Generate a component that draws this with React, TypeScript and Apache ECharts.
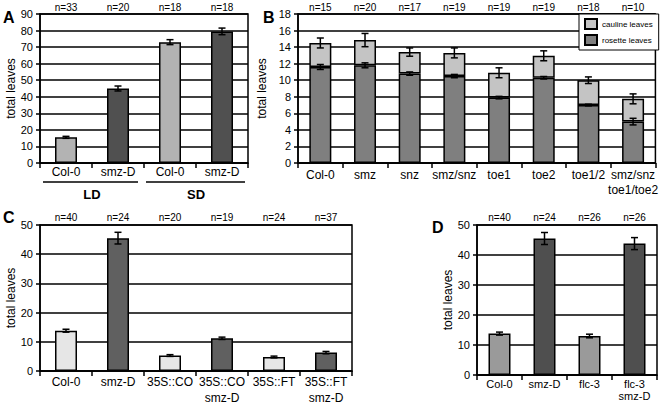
import React, { useEffect, useRef } from 'react';
import * as echarts from 'echarts';

// ---------- Panel A ----------
const aCategories = ['Col-0', 'smz-D', 'Col-0', 'smz-D'];
const aN = ['n=33', 'n=20', 'n=18', 'n=18'];
const aMeans = [15.5, 45, 73, 79.5];
const aErrors = [0.6, 1.5, 1.5, 2];
const aGroups = ['LD', 'SD'];

// ---------- Panel B ----------
const bCategories = ['Col-0', 'smz', 'snz', 'smz/snz', 'toe1', 'toe2', 'toe1/2', 'smz/snz\ntoe1/toe2'];
const bN = ['n=15', 'n=20', 'n=17', 'n=19', 'n=19', 'n=19', 'n=18', 'n=10'];
const bRosette = [11.6, 11.8, 10.8, 10.5, 7.9, 10.3, 7.0, 5.0];
const bRosetteErr = [0.3, 0.3, 0.2, 0.2, 0.15, 0.15, 0.1, 0.4];
const bTotal = [14.5, 14.85, 13.4, 13.3, 10.9, 12.95, 10.0, 7.75];
const bTotalErr = [0.6, 0.8, 0.5, 0.6, 0.6, 0.6, 0.4, 0.6];

// ---------- Panel C ----------
const cCategories = ['Col-0', 'smz-D', '35S::CO', '35S::CO\nsmz-D', '35S::FT', '35S::FT\nsmz-D'];
const cN = ['n=40', 'n=24', 'n=20', 'n=19', 'n=24', 'n=37'];
const cMeans = [13.8, 45.5, 5.3, 11.2, 4.8, 6.3];
const cErrors = [0.5, 2, 0.3, 0.4, 0.3, 0.4];

// ---------- Panel D ----------
const dCategories = ['Col-0', 'smz-D', 'flc-3', 'flc-3\nsmz-D'];
const dN = ['n=40', 'n=24', 'n=26', 'n=26'];
const dMeans = [13.8, 45.5, 13, 43.8];
const dErrors = [0.5, 2, 0.6, 2];

const FONT = '"Liberation Sans", Arial, Helvetica, sans-serif';

const aColors = ['#b3b3b3', '#505050', '#b3b3b3', '#505050'];
const cColors = ['#e6e6e6', '#606060', '#e6e6e6', '#606060', '#e6e6e6', '#606060'];
const dColors = ['#9a9a9a', '#4f4f4f', '#9a9a9a', '#4f4f4f'];

const grids = [
  { left: 40, top: 14, width: 208, height: 149 },
  { left: 298, top: 14, width: 359, height: 149 },
  { left: 40, top: 225, width: 312, height: 150 },
  { left: 477, top: 225, width: 180, height: 150 },
];

function xBottom(gridIndex: number, cats: string[], lineHeight: number, fontSize = 12, margin = 3) {
  return {
    type: 'category',
    gridIndex,
    position: 'bottom',
    data: cats,
    axisLine: { show: true, lineStyle: { color: '#000', width: 1.5 } },
    axisTick: { show: true, length: 5, alignWithLabel: false, interval: 0, lineStyle: { color: '#000', width: 1.5 } },
    axisLabel: { interval: 0, color: '#000', fontSize, fontFamily: FONT, margin, lineHeight },
    splitLine: { show: false },
  };
}

function xTop(gridIndex: number, ns: string[], margin: number) {
  return {
    type: 'category',
    gridIndex,
    position: 'top',
    data: ns,
    axisLine: { show: false },
    axisTick: { show: false },
    axisLabel: { interval: 0, color: '#000', fontSize: 10, fontFamily: FONT, margin },
    splitLine: { show: false },
  };
}

function yAxis(gridIndex: number, max: number, interval: number, nameGap: number) {
  return {
    type: 'value',
    gridIndex,
    min: 0,
    max,
    interval,
    name: 'total leaves',
    nameLocation: 'middle',
    nameGap,
    nameTextStyle: { color: '#000', fontSize: 12, fontFamily: FONT },
    axisLine: { show: true, lineStyle: { color: '#000', width: 1.5 } },
    axisTick: { show: true, length: 4, lineStyle: { color: '#000', width: 1.5 } },
    axisLabel: { color: '#000', fontSize: 11, fontFamily: FONT, margin: 7 },
    splitLine: { show: true, lineStyle: { color: '#000', width: 1.5 } },
  };
}

function barSeries(idx: number, means: number[], colors: string[]) {
  return {
    type: 'bar',
    xAxisIndex: idx,
    yAxisIndex: idx,
    barWidth: 22,
    data: means.map((v, i) => ({ value: v, itemStyle: { color: colors[i] } })),
    itemStyle: { borderColor: '#000', borderWidth: 1.5 },
    z: 3,
  };
}

function errSeries(idx: number, means: number[], errs: number[]) {
  return {
    type: 'custom',
    xAxisIndex: idx,
    yAxisIndex: idx,
    z: 5,
    encode: { x: 0, y: [1, 2] },
    data: means.map((m, i) => [i, m - errs[i], m + errs[i]]),
    renderItem: (params: any, api: any) => {
      const x = api.value(0);
      const top = api.coord([x, api.value(2)]);
      const bot = api.coord([x, api.value(1)]);
      const w = 3.5;
      const st = { stroke: '#000', lineWidth: 1.5 };
      return {
        type: 'group',
        children: [
          { type: 'line', shape: { x1: top[0], y1: top[1], x2: bot[0], y2: bot[1] }, style: st },
          { type: 'line', shape: { x1: top[0] - w, y1: top[1], x2: top[0] + w, y2: top[1] }, style: st },
          { type: 'line', shape: { x1: bot[0] - w, y1: bot[1], x2: bot[0] + w, y2: bot[1] }, style: st },
        ],
      };
    },
  };
}

function buildOption() {
  const ga = grids[0];
  const catW = ga.width / aCategories.length;
  const groupLineY = 182;
  const graphic: any[] = [
    { type: 'text', left: 3, top: 9, style: { text: 'A', font: `bold 16px ${FONT}`, fill: '#000' } },
    { type: 'text', left: 263, top: 9, style: { text: 'B', font: `bold 16px ${FONT}`, fill: '#000' } },
    { type: 'text', left: 3, top: 209, style: { text: 'C', font: `bold 16px ${FONT}`, fill: '#000' } },
    { type: 'text', left: 432, top: 219, style: { text: 'D', font: `bold 16px ${FONT}`, fill: '#000' } },
  ];
  aGroups.forEach((g, gi) => {
    const x0 = ga.left + gi * 2 * catW;
    graphic.push({
      type: 'line',
      shape: { x1: x0 + (gi === 0 ? 3 : 2), y1: groupLineY, x2: x0 + 2 * catW - (gi === 0 ? 6 : 3), y2: groupLineY },
      style: { stroke: '#000', lineWidth: 1.5 },
    });
    graphic.push({
      type: 'text',
      x: x0 + catW,
      y: 194,
      style: { text: g, font: `bold 13px ${FONT}`, fill: '#000', align: 'center', verticalAlign: 'middle', textAlign: 'center', textVerticalAlign: 'middle' },
    });
  });

  const bCauline = bTotal.map((t, i) => +(t - bRosette[i]).toFixed(2));

  return {
    animation: false,
    backgroundColor: '#fff',
    textStyle: { fontFamily: FONT },
    grid: grids.map((g) => ({ ...g, show: true, borderColor: '#000', borderWidth: 1.5, backgroundColor: 'transparent' })),
    legend: {
      data: ['cauline leaves', 'rosette leaves'],
      orient: 'vertical',
      left: 579,
      top: 14,
      backgroundColor: '#fff',
      borderColor: '#000',
      borderWidth: 1,
      padding: [4, 6, 4, 5],
      itemGap: 4,
      itemWidth: 12,
      itemHeight: 10,
      icon: 'rect',
      textStyle: { fontSize: 8, color: '#000', fontFamily: FONT },
      selectedMode: false,
    },
    xAxis: [
      xBottom(0, aCategories, 12, 12, 3),
      xBottom(1, bCategories, 15, 12, 4),
      xBottom(2, cCategories, 16, 12, 3),
      xBottom(3, dCategories, 12, 11, 3),
      xTop(0, aN, 2),
      xTop(1, bN, 2),
      xTop(2, cN, 3),
      xTop(3, dN, 3),
    ],
    yAxis: [yAxis(0, 90, 10, 22), yAxis(1, 18, 2, 18), yAxis(2, 50, 10, 22), yAxis(3, 50, 10, 21)],
    series: [
      barSeries(0, aMeans, aColors),
      errSeries(0, aMeans, aErrors),
      {
        name: 'rosette leaves',
        type: 'bar',
        xAxisIndex: 1,
        yAxisIndex: 1,
        stack: 'b',
        barWidth: 22,
        data: bRosette,
        itemStyle: { color: '#7f7f7f', borderColor: '#000', borderWidth: 1.5 },
        z: 3,
      },
      {
        name: 'cauline leaves',
        type: 'bar',
        xAxisIndex: 1,
        yAxisIndex: 1,
        stack: 'b',
        barWidth: 22,
        data: bCauline,
        itemStyle: { color: '#c4c4c4', borderColor: '#000', borderWidth: 1.5 },
        z: 3,
      },
      errSeries(1, bRosette, bRosetteErr),
      errSeries(1, bTotal, bTotalErr),
      barSeries(2, cMeans, cColors),
      errSeries(2, cMeans, cErrors),
      barSeries(3, dMeans, dColors),
      errSeries(3, dMeans, dErrors),
    ],
    graphic,
  };
}

export default function App() {
  const ref = useRef<HTMLDivElement>(null);
  useEffect(() => {
    const chart = echarts.init(ref.current!, null, { renderer: 'svg' });
    chart.setOption(buildOption() as any);
    return () => chart.dispose();
  }, []);
  return (
    <div
      ref={ref}
      style={{ position: 'fixed', left: 0, top: 0, width: 661, height: 406, background: '#fff' }}
    />
  );
}
